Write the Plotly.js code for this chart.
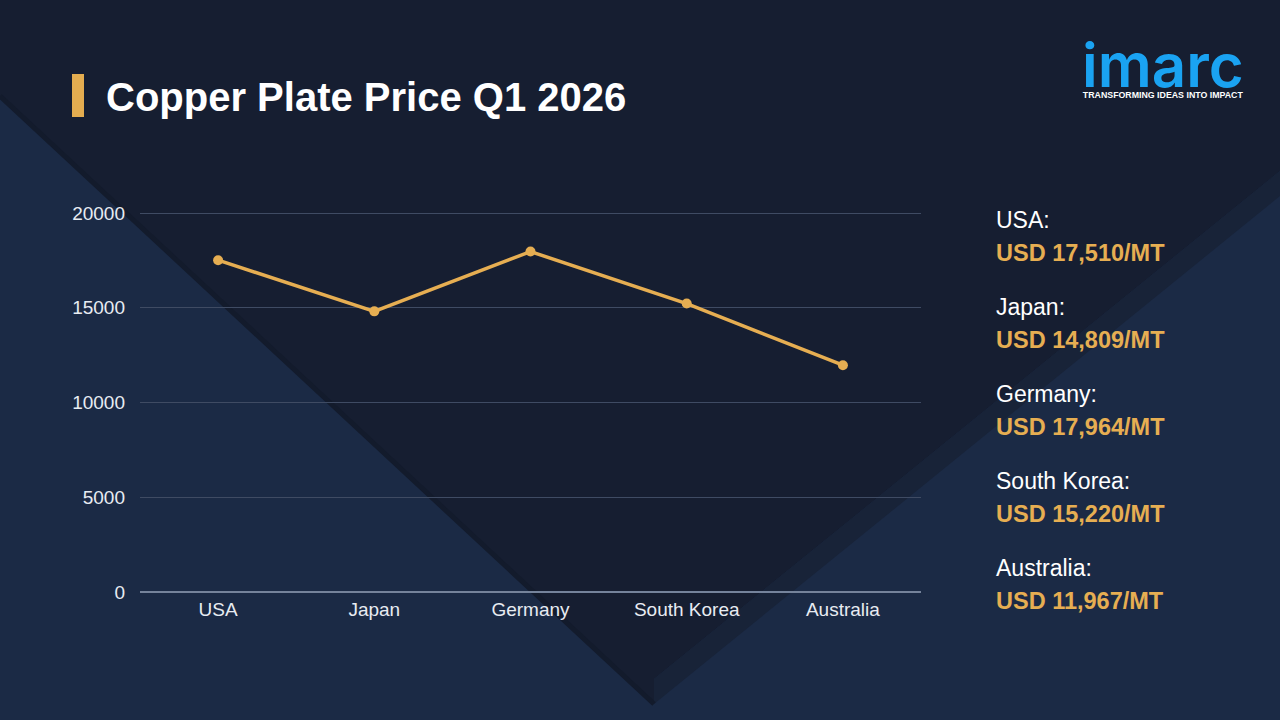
<!DOCTYPE html>
<html>
<head>
<meta charset="utf-8">
<script src="https://cdn.plot.ly/plotly-3.0.1.min.js"></script>
<style>
  html, body { margin: 0; padding: 0; background: #1b2a45; }
  #chart { width: 1280px; height: 720px; }
</style>
</head>
<body>
<div id="chart"></div>
<script>
// ---- data ----
const countries = ['USA', 'Japan', 'Germany', 'South Korea', 'Australia'];
const prices = [17510, 14809, 17964, 15220, 11967];
const yTickVals = [0, 5000, 10000, 15000, 20000];
const yTickText = ['0', '5000', '10000', '15000', '20000'];
const titleText = 'Copper Plate Price Q1 2026';
const unitPrefix = 'USD ';
const unitSuffix = '/MT';
const logoText = 'imarc';
const logoTagline = 'TRANSFORMING IDEAS INTO IMPACT';

// ---- helpers (pixel -> paper) ----
const W = 1280, H = 720;
const px = x => x / W;
const py = y => 1 - y / H;
function path(points) {
  return 'M ' + points.map(p => px(p[0]).toFixed(5) + ' ' + py(p[1]).toFixed(5)).join(' L ') + ' Z';
}

const gold = '#e6ae52';
const fontFamily = '"Liberation Sans", Arial, sans-serif';

const shapes = [
  // dark top "V" region
  {type: 'path', xref: 'paper', yref: 'paper', layer: 'below', line: {width: 0},
   fillcolor: '#161e31',
   path: path([[0, 0], [1280, 0], [1280, 171], [654, 679], [654, 704], [0, 96]])},
  // bevel strip along the right diagonal
  {type: 'path', xref: 'paper', yref: 'paper', layer: 'below', line: {width: 0},
   fillcolor: '#182338',
   path: path([[654, 679], [1280, 171], [1280, 196], [654, 704]])},
  // subtle dark edge along the left diagonal
  {type: 'line', xref: 'paper', yref: 'paper', layer: 'below',
   x0: px(0), y0: py(96), x1: px(654), y1: py(704),
   line: {color: '#131b2c', width: 5}},
  // gold title bar
  {type: 'rect', xref: 'paper', yref: 'paper', layer: 'above',
   x0: px(72), x1: px(84), y0: py(117), y1: py(74),
   fillcolor: '#e4ad50', line: {width: 0}}
];

const annotations = [];
const rowStart = 220, rowStep = 87;
countries.forEach((c, i) => {
  annotations.push({
    xref: 'paper', yref: 'paper', x: px(994), y: py(rowStart + i * rowStep),
    xanchor: 'left', yanchor: 'middle', showarrow: false,
    text: c + ':', font: {family: fontFamily, size: 23, color: '#ffffff'}
  });
  annotations.push({
    xref: 'paper', yref: 'paper', x: px(994), y: py(rowStart + 33 + i * rowStep),
    xanchor: 'left', yanchor: 'middle', showarrow: false,
    text: '<b>' + unitPrefix + prices[i].toLocaleString('en-US') + unitSuffix + '</b>',
    font: {family: fontFamily, size: 23.5, color: gold}
  });
});
// logo (one annotation, two lines)
annotations.push({
  xref: 'paper', yref: 'paper', x: px(1163), y: py(103),
  xanchor: 'center', yanchor: 'bottom', showarrow: false, align: 'center',
  text: '<span style="font-size:60px;font-family:Inter,\'Noto Sans\',sans-serif;font-weight:600;fill:#1aa3f2">' +
        logoText + '</span><br><b>' + logoTagline + '</b>',
  font: {family: fontFamily, size: 8.8, color: '#ffffff'}
});

const trace = {
  type: 'scatter', mode: 'lines+markers',
  x: countries, y: prices,
  line: {color: gold, width: 3.5},
  marker: {color: gold, size: 10},
  hoverinfo: 'x+y'
};

const yTop = 20100;
const layout = {
  width: W, height: H, autosize: false,
  margin: {l: 0, r: 0, t: 0, b: 0, pad: 0},
  paper_bgcolor: '#1b2a45',
  plot_bgcolor: 'rgba(0,0,0,0)',
  showlegend: false,
  font: {family: fontFamily, color: '#e8ecf2'},
  title: {
    text: '<b>' + titleText + '</b>',
    xref: 'paper', yref: 'paper', x: px(106), xanchor: 'left',
    y: py(97), yanchor: 'middle',
    font: {family: fontFamily, size: 40, color: '#ffffff'}
  },
  xaxis: {
    domain: [px(140), px(921)],
    type: 'category', range: [-0.5, 4.5],
    showgrid: false, zeroline: false, showline: false, ticks: '',
    tickfont: {family: fontFamily, size: 19, color: '#e8ecf2'},
    ticklabelstandoff: 4, fixedrange: true
  },
  yaxis: {
    domain: [py(592), py(592 - 379 * yTop / 20000)],
    range: [0, yTop],
    tickvals: yTickVals, ticktext: yTickText,
    showgrid: true, gridcolor: '#3f4b63', gridwidth: 1,
    zeroline: true, zerolinecolor: '#75839b', zerolinewidth: 2,
    showline: false, ticks: '',
    tickfont: {family: fontFamily, size: 19, color: '#e8ecf2'},
    ticklabelstandoff: 14, fixedrange: true
  },
  shapes: shapes,
  annotations: annotations
};

Plotly.newPlot('chart', [trace], layout, {displayModeBar: false, staticPlot: true});
</script>
</body>
</html>
